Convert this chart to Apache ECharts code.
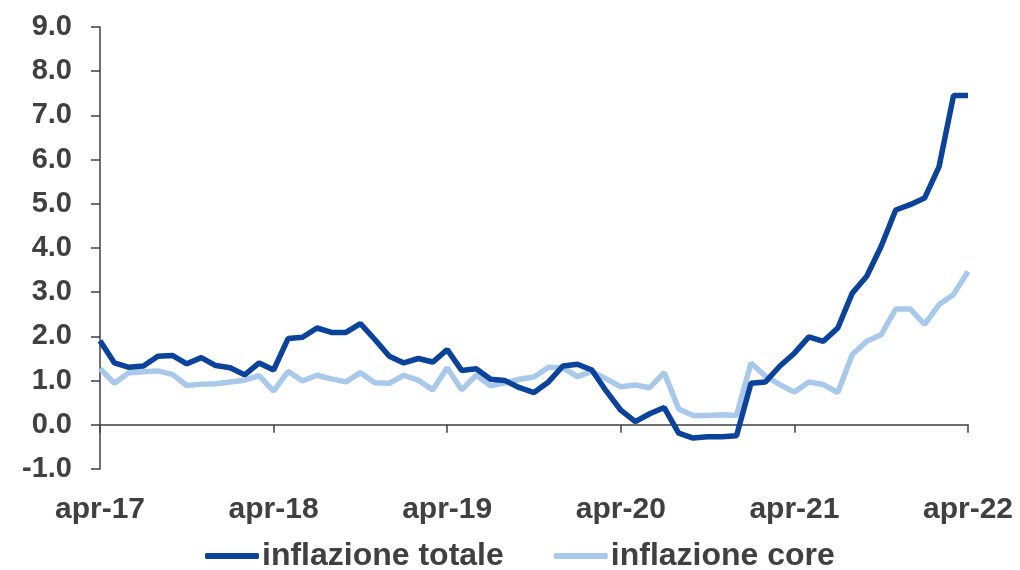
<!DOCTYPE html>
<html>
<head>
<meta charset="utf-8">
<script src="https://cdn.jsdelivr.net/npm/echarts@6/dist/echarts.min.js"></script>
<style>
html,body{margin:0;padding:0;background:#fff;}
#chart{width:1020px;height:570px;}
</style>
</head>
<body>
<div id="chart"></div>
<script>
const monthNames = ["gen","feb","mar","apr","mag","giu","lug","ago","set","ott","nov","dic"];
const startYear = 2017, startMonth = 3, nMonths = 61;
const categories = [];
for (let i = 0; i < nMonths; i++) {
  const m = (startMonth + i) % 12;
  const y = startYear + Math.floor((startMonth + i) / 12);
  categories.push(monthNames[m] + "-" + String(y).slice(2));
}
const seriesNames = ["inflazione totale", "inflazione core"];
const totale = [1.9,1.4,1.3,1.33,1.55,1.57,1.38,1.52,1.34,1.29,1.13,1.4,1.24,1.95,1.98,2.19,2.09,2.09,2.29,1.93,1.55,
  1.4,1.5,1.42,1.7,1.23,1.27,1.03,1.0,0.84,0.73,0.97,1.33,1.37,1.24,0.76,0.33,0.07,0.25,0.39,-0.19,
  -0.3,-0.27,-0.27,-0.25,0.94,0.97,1.33,1.62,1.99,1.89,2.19,2.98,3.36,4.04,4.86,4.98,5.13,5.84,7.45,7.45];
const core = [1.27,0.94,1.18,1.2,1.22,1.14,0.89,0.92,0.93,0.97,1.01,1.11,0.76,1.21,0.99,1.12,1.04,0.97,1.18,0.95,
  0.94,1.12,1.01,0.79,1.29,0.79,1.12,0.88,0.95,1.03,1.08,1.3,1.29,1.09,1.21,1.04,0.86,0.9,0.84,1.18,
  0.36,0.21,0.21,0.23,0.21,1.4,1.1,0.91,0.74,0.97,0.91,0.73,1.59,1.89,2.04,2.62,2.62,2.27,2.72,2.95,3.47];
const yMin = -1, yMax = 9, yStep = 1;

const textColor = "#404040";
const fontFam = "'Liberation Sans', Arial, sans-serif";
const chart = echarts.init(document.getElementById('chart'), null, {renderer: 'canvas'});
chart.setOption({
  animation: false,
  backgroundColor: "#ffffff",
  grid: {left: 100, right: 52, top: 27, bottom: 101, containLabel: false},
  legend: {
    bottom: -7,
    left: 200,
    data: seriesNames,
    itemWidth: 54,
    itemHeight: 6,
    itemGap: 50,
    icon: 'roundRect',
    textStyle: {color: textColor, fontSize: 32, fontWeight: 'bold', fontFamily: fontFam, padding: [0,0,0,-2]}
  },
  xAxis: [{
    type: 'category',
    data: categories,
    boundaryGap: false,
    position: 'bottom',
    axisLine: {onZero: true, lineStyle: {color: textColor, width: 1.5}},
    axisTick: {show: true, interval: 11, length: 8, lineStyle: {color: textColor, width: 1.5}},
    axisLabel: {show: false},
    splitLine: {show: false}
  }, {
    type: 'category',
    data: categories,
    boundaryGap: false,
    position: 'bottom',
    axisLine: {show: false, onZero: false},
    axisTick: {show: false},
    axisLabel: {show: true, interval: 11, margin: 26, color: textColor, fontSize: 30, fontWeight: 'bold', fontFamily: fontFam},
    splitLine: {show: false}
  }],
  yAxis: {
    type: 'value',
    min: yMin, max: yMax, interval: yStep,
    axisLine: {show: true, lineStyle: {color: textColor, width: 1.5}},
    axisTick: {show: true, length: 9, lineStyle: {color: textColor, width: 1.5}},
    axisLabel: {margin: 28, color: textColor, fontSize: 29, fontWeight: 'bold', fontFamily: fontFam,
      formatter: v => v.toFixed(1)},
    splitLine: {show: false}
  },
  series: [{
    name: seriesNames[0], type: 'line', data: totale, xAxisIndex: 0,
    showSymbol: false, symbol: 'none',
    lineStyle: {color: "#0B429A", width: 5.5},
    itemStyle: {color: "#0B429A"},
    z: 3
  }, {
    name: seriesNames[1], type: 'line', data: core, xAxisIndex: 0,
    showSymbol: false, symbol: 'none',
    lineStyle: {color: "#A8C9EA", width: 5.5},
    itemStyle: {color: "#A8C9EA"},
    z: 2
  }]
});
</script>
</body>
</html>
